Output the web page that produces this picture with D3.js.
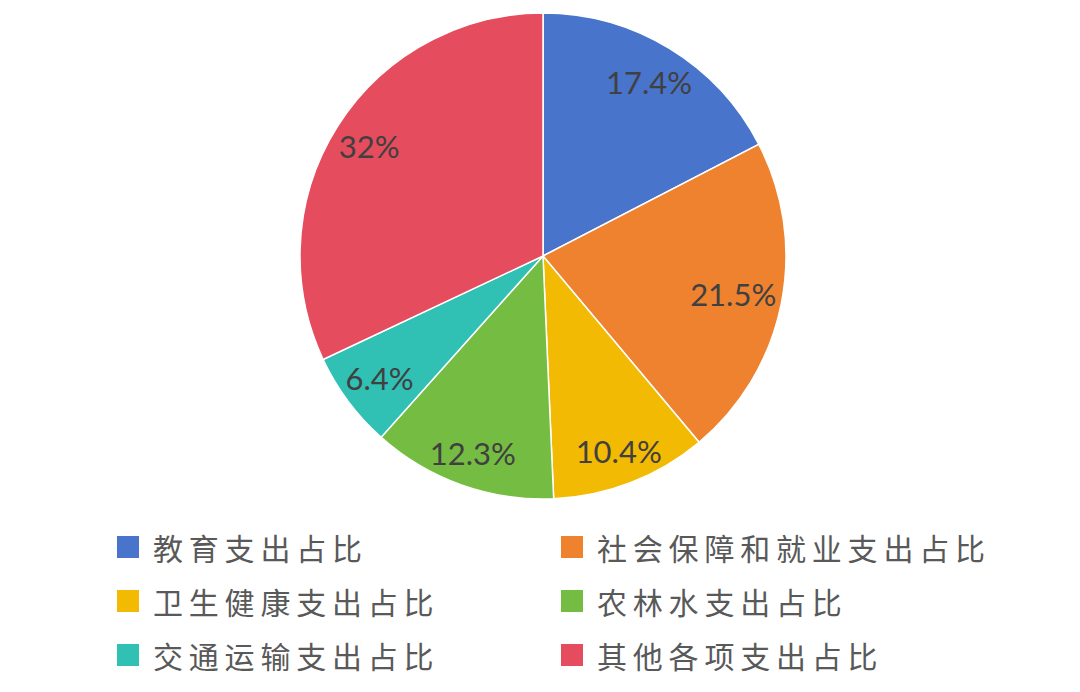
<!DOCTYPE html>
<html>
<head>
<meta charset="utf-8">
<script src="https://cdn.jsdelivr.net/npm/d3@7"></script>
<style>
  body { margin: 0; background: #fff; }
  svg { display: block; }
</style>
</head>
<body>
<script>
// #### data ####
var categories = ["教育支出占比", "社会保障和就业支出占比", "卫生健康支出占比",
                  "农林水支出占比", "交通运输支出占比", "其他各项支出占比"];
var values = [17.4, 21.5, 10.4, 12.3, 6.4, 32];
var valueLabels = ["17.4%", "21.5%", "10.4%", "12.3%", "6.4%", "32%"];
var colors = ["#4874CB", "#EE822F", "#F2BA02", "#75BD42", "#30C0B4", "#E54C5E"];

// #### layout ####
var width = 1080, height = 692;
var cx = 543, cy = 256, radius = 243;

var svg = d3.select("body").append("svg")
  .attr("width", width)
  .attr("height", height);

var data = categories.map(function(c, i) {
  return {name: c, value: values[i], label: valueLabels[i], color: colors[i]};
});

var pie = d3.pie()
  .value(function(d) { return d.value; })
  .sort(null);

var arc = d3.arc()
  .innerRadius(0)
  .outerRadius(radius);

var g = svg.append("g")
  .attr("transform", "translate(" + cx + "," + cy + ")");

var arcs = pie(data);

g.selectAll(".slice")
  .data(arcs)
  .enter().append("path")
  .attr("class", "slice")
  .attr("d", arc)
  .style("fill", function(d) { return d.data.color; })
  .style("stroke", "#fff")
  .style("stroke-width", 1.5);

// labels: push in along the mid-angle until the text box fits inside the pie
var labels = g.selectAll(".lbl")
  .data(arcs)
  .enter().append("text")
  .attr("class", "lbl")
  .attr("text-anchor", "middle")
  .attr("dominant-baseline", "central")
  .style("font-family", "Lato, 'Open Sans', sans-serif")
  .style("font-size", "31px")
  .style("fill", "#404040")
  .text(function(d) { return d.data.label; });

labels.each(function(d) {
  var bb = this.getBBox();
  var hw = bb.width / 2, hh = 12;
  var a = (d.startAngle + d.endAngle) / 2;
  var r = radius * 0.86;
  var limit = radius - 4;
  function far(rr) {
    var x = Math.sin(a) * rr, y = -Math.cos(a) * rr;
    var fx = Math.abs(x) + hw, fy = Math.abs(y) + hh;
    return Math.sqrt(fx * fx + fy * fy);
  }
  while (r > 0 && far(r) > limit) r -= 1;
  d3.select(this)
    .attr("x", Math.sin(a) * r)
    .attr("y", -Math.cos(a) * r);
});

// legend
var legendCols = [117, 561];
var legendRows = [547, 601, 655];

var legend = svg.selectAll(".legend")
  .data(data)
  .enter().append("g")
  .attr("class", "legend")
  .attr("transform", function(d, i) {
    return "translate(" + legendCols[i % 2] + "," + legendRows[Math.floor(i / 2)] + ")";
  });

legend.append("rect")
  .attr("x", 0)
  .attr("y", -11)
  .attr("width", 22)
  .attr("height", 22)
  .style("fill", function(d) { return d.color; });

legend.append("text")
  .attr("x", 36)
  .attr("y", 0)
  .attr("dominant-baseline", "central")
  .style("font-family", "'Noto Sans CJK SC', sans-serif")
  .style("font-size", "30px")
  .style("letter-spacing", "5.8px")
  .style("fill", "#595959")
  .text(function(d) { return d.name; });
</script>
</body>
</html>
